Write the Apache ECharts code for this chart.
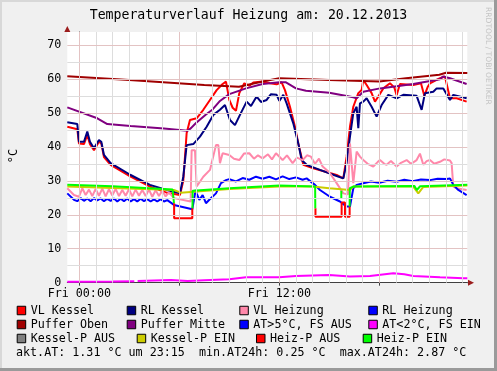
<!DOCTYPE html>
<html><head><meta charset="utf-8">
<script src="https://cdn.jsdelivr.net/npm/echarts@6/dist/echarts.min.js"></script>
<style>html,body{margin:0;padding:0;background:#f0f0f0}#c{width:497px;height:371px}</style>
</head><body><div id="c"></div>
<script>
const titleText = 'Temperaturverlauf Heizung am: 20.12.2013';
const yUnit = '°C';
const sideText = 'RRDTOOL / TOBI OETIKER';
const footerText = 'akt.AT: 1.31 °C um 23:15  min.AT24h: 0.25 °C  max.AT24h: 2.87 °C';
const xStart = -0.72, xEnd = 23.28;
const yMin = 0, yMax = 73.8;
const xTickHours = [0, 6, 12, 18];
const xLabelHours = [0, 12];
const xLabelText = ['Fri 00:00', 'Fri 12:00'];
const yLabelValues = [0, 10, 20, 30, 40, 50, 60, 70];
const gridHours = [0,1,2,3,4,5,6,7,8,9,10,11,12,13,14,15,16,17,18,19,20,21,22,23];
const gridValues = [5,10,15,20,25,30,35,40,45,50,55,60,65,70];

// [hour, °C]
const vlKessel = [[-0.72,45.9],[-0.12,45.2],[-0.02,41],[0.28,40.8],[0.48,43.5],[0.64,40.8],[0.88,39],[1.18,41.5],[1.32,41],[1.48,37],[1.88,34.7],[3.08,31.2],[4.24,28.3],[5.24,26.5],[6.04,25.8],[6.24,30],[6.44,44],[6.64,47.9],[7.04,48.4],[7.44,50.9],[7.84,53.8],[8.24,56.7],[8.6,58.5],[8.8,59.2],[9.0,53.8],[9.2,51.5],[9.4,50.6],[9.6,55.8],[9.9,58.7],[10.2,58.0],[10.44,58.9],[11.0,59.2],[11.44,58.7],[11.84,58.4],[12.14,59.0],[12.34,56.7],[12.64,51.8],[12.94,45.9],[13.14,41],[13.44,34.7],[14.04,33.7],[15.44,31.7],[15.84,30.7],[16.04,37.1],[16.24,45.9],[16.44,51.8],[16.74,55.8],[16.94,56.7],[17.04,59.7],[17.24,58.2],[17.54,55.8],[17.74,53.3],[17.94,54.8],[18.24,57.2],[18.64,58.7],[18.9,57.5],[19.04,55.2],[19.24,58.5],[20.04,58.2],[20.5,58.7],[20.7,55.0],[20.9,57.6],[21.04,58.7],[21.64,60.2],[21.94,60.7],[22.24,54.3],[22.64,54.3],[23.24,53.3]];
const rlKessel = [[-0.72,47.2],[-0.12,46.7],[-0.02,41.5],[0.28,41.5],[0.48,44.5],[0.64,41.5],[0.88,39.6],[1.18,42],[1.32,41.5],[1.48,37.6],[1.88,35.2],[3.08,31.7],[4.24,28.8],[5.24,27.3],[6.04,26.3],[6.24,31.2],[6.44,40.5],[6.84,40.8],[7.24,43],[7.64,45.9],[8.04,49.4],[8.44,50.9],[8.74,52.3],[9.04,47.9],[9.34,46.4],[9.64,49.4],[10.04,53.3],[10.3,52.0],[10.64,54.8],[10.9,53.2],[11.24,53.8],[11.5,55.5],[11.84,55.3],[12.0,53.5],[12.24,55.3],[12.44,52.8],[12.84,46.9],[13.14,41],[13.34,36.1],[13.64,34.7],[14.44,33.2],[15.44,31.4],[15.84,30.7],[16.04,35.2],[16.24,43],[16.44,49.9],[16.64,51.8],[16.74,45.5],[16.84,52.8],[17.04,53.3],[17.24,54.3],[17.54,51.8],[17.84,48.9],[18.14,52.3],[18.54,55.3],[19.04,54.3],[19.44,55.3],[20.24,55],[20.54,50.9],[20.74,55.8],[21.24,56.2],[21.44,57.2],[21.84,57.2],[22.24,53.8],[22.44,55.3],[23.24,54.3]];
const vlHeizung = [[-0.72,27.8],[-0.32,25.8],[-0.02,25.3],[0.18,27.8],[0.38,25.8],[0.58,27.4],[0.78,25.5],[0.98,27.6],[1.18,25.6],[1.38,27.7],[1.58,25.4],[1.78,27.5],[1.98,25.7],[2.18,27.6],[2.38,25.5],[2.58,27.3],[2.78,25.6],[2.98,27.5],[3.18,25.4],[3.38,27.4],[3.58,25.6],[3.78,27.3],[3.98,25.5],[4.18,27.4],[4.38,25.3],[4.58,27.2],[4.78,25.5],[4.98,27.1],[5.18,25.4],[5.38,26.6],[5.68,24.9],[6.68,23.9],[6.74,39],[6.94,39],[7.04,28.3],[7.44,31.2],[7.84,33.2],[8.2,40.5],[8.34,40.5],[8.44,35.2],[8.6,38.1],[9.0,37.6],[9.28,36.5],[9.6,36.1],[9.88,38],[10.2,38.1],[10.48,36.5],[10.72,37.5],[11.0,36.6],[11.32,37.8],[11.56,36.3],[11.8,38.1],[12.2,36.1],[12.46,37.5],[12.8,35.2],[13.06,36.8],[13.4,36.1],[13.66,37.5],[13.9,37.1],[14.14,35],[14.38,36.5],[14.6,34.2],[15.0,32.5],[15.44,29.3],[15.84,26.3],[16.12,26],[16.24,41],[16.34,41],[16.44,29.3],[16.64,38.6],[16.84,37.1],[17.04,36.1],[17.3,35],[17.64,34.2],[17.9,35.5],[18.04,36.1],[18.3,35],[18.44,34.7],[18.7,35.8],[19.04,34.2],[19.3,35.3],[19.64,36.1],[19.9,35],[20.24,36.1],[20.44,38],[20.64,34.7],[20.84,35.8],[21.04,36.1],[21.3,35],[21.64,35.6],[21.9,36.3],[22.24,36],[22.34,35.2],[22.44,28.3],[22.64,27.8],[23.24,27.3]];
const rlHeizung = [[-0.72,26.3],[-0.32,24.4],[-0.12,24.0],[0.08,24.9],[0.28,24.1],[0.48,24.8],[0.68,24.0],[0.88,24.9],[1.08,24.2],[1.28,24.8],[1.48,24.0],[1.68,24.7],[1.88,24.1],[2.08,24.8],[2.28,23.9],[2.48,24.7],[2.68,24.0],[2.88,24.8],[3.08,23.9],[3.28,24.6],[3.48,23.9],[3.68,24.7],[3.88,24.0],[4.08,24.6],[4.28,23.9],[4.48,24.5],[4.68,23.9],[4.88,24.6],[5.08,23.9],[5.28,24.3],[5.68,22.9],[6.78,21.6],[6.98,27.3],[7.04,26.3],[7.2,24.4],[7.4,25.8],[7.6,23.4],[7.8,24.4],[8.2,26.3],[8.5,29.3],[8.8,30.2],[9.0,30.5],[9.4,29.8],[9.8,30.8],[10.2,30.3],[10.6,31.2],[11.0,30.6],[11.4,31.2],[11.8,30.4],[12.2,31.3],[12.6,30.5],[13.0,31],[13.4,30.3],[13.64,30.7],[14.14,28.8],[14.44,27.3],[15.04,25.3],[15.64,23.9],[16.04,22.4],[16.24,22.4],[16.44,27.8],[16.64,28.8],[17.04,29.3],[17.5,29.8],[18.0,29.4],[18.5,30],[19.04,29.7],[19.5,30.3],[20.0,29.9],[20.5,30.4],[21.04,30.2],[21.5,30.6],[22.04,30.5],[22.24,30.7],[22.44,28.8],[22.74,27.3],[23.24,25.8]];
const pufferOben = [[-0.72,60.8],[3,59.7],[7.5,58.2],[9.58,57.7],[11,59.2],[12,60.2],[15,59.7],[18,59.2],[19.6,60.2],[21.6,61.2],[22,61.8],[23.28,61.7]];
const pufferMitte = [[-0.72,51.6],[1.08,48.4],[1.68,46.7],[3.08,46.1],[5.08,45.4],[6.48,44.7],[6.7,45.5],[7.0,47],[7.6,49.5],[8.0,51],[8.44,53.5],[9.0,55.5],[10.0,57.2],[11.0,58.5],[12.0,59.0],[12.4,59.0],[13.0,57.2],[13.6,56.5],[15.0,55.9],[16.44,54.6],[16.64,54.3],[17.04,56.2],[18.04,57.2],[20.04,58.5],[21.64,59.9],[21.82,60.7],[22.24,60.2],[23.24,58.5]];
const atHigh = [];
const atLow = [[-0.72,0.3],[2,0.35],[3.3,0.45],[3.35,null],[3.45,null],[3.5,0.5],[5.5,0.8],[6.5,0.5],[7.5,0.7],[9,1.0],[10,1.6],[12,1.6],[13,2.0],[15,2.3],[16.24,1.8],[17.44,2.0],[18.84,2.8],[19.5,2.5],[20.04,2.0],[21.64,1.6],[23.04,1.3],[23.28,1.3]];
const kesselPAus = [];
const kesselPEin = [[-0.72,28.3],[5.68,27.3],[6.08,26.5],[6.88,26.8],[9.0,27.6],[12,28.3],[14,28.3],[15,27.8],[16.24,27.3],[16.44,28.3],[20.04,28.3],[20.34,26.3],[20.64,28.2],[23.28,28.6]];
const heizPAus = [[5.69,23.4],[5.69,19],[6.78,19],[6.78,21.9],[6.8,null],[14.16,null],[14.17,21.9],[14.17,19.4],[15.74,19.4],[15.74,23.6],[15.94,23.6],[15.94,19.4],[16.22,19.4],[16.22,22.4]];
const heizPEin = [[-0.72,28.8],[2,28.4],[5.6,27.4],[5.68,27.3],[5.68,23.4],[5.7,null],[6.77,null],[6.79,21.9],[6.8,27.1],[9,27.8],[12,28.6],[14.15,28.3],[14.16,21.9],[14.18,null],[15.7,null],[15.72,27.1],[15.72,24.9],[15.74,null],[16.2,null],[16.22,22.4],[16.23,27.8],[16.44,28.3],[20.1,28.5],[20.25,27.3],[20.45,28.4],[23.28,28.8]];

const seriesDefs = [
  {name:'VL Kessel', color:'#ff0000', data:vlKessel},
  {name:'RL Kessel', color:'#000080', data:rlKessel},
  {name:'VL Heizung', color:'#ff88aa', data:vlHeizung},
  {name:'RL Heizung', color:'#0000ff', data:rlHeizung},
  {name:'Puffer Oben', color:'#a00000', data:pufferOben},
  {name:'Puffer Mitte', color:'#800080', data:pufferMitte},
  {name:'AT>5°C, FS AUS', color:'#0000ff', data:atHigh},
  {name:'AT<2°C, FS EIN', color:'#ff00ff', data:atLow},
  {name:'Kessel-P AUS', color:'#808080', data:kesselPAus},
  {name:'Kessel-P EIN', color:'#cccc00', data:kesselPEin},
  {name:'Heiz-P AUS', color:'#ff0000', data:heizPAus},
  {name:'Heiz-P EIN', color:'#00ff00', data:heizPEin}
];
const legendRows = [
  {top:311.5, lefts:[16.7,126.7,239.3,368.3]},
  {top:325.5, lefts:[16.7,126.7,239.3,368.3]},
  {top:339.5, lefts:[16.7,136.7,256,362.7]}
];

const FONT = 'DejaVu Sans Mono';
const chart = echarts.init(document.getElementById('c'), null, {renderer:'canvas'});

const legends = seriesDefs.map((s, i) => {
  const row = legendRows[Math.floor(i / 4)];
  return {
    data:[s.name], left: row.lefts[i % 4], top: row.top - 7,
    padding:0, icon:'rect', itemWidth:8.5, itemHeight:8.5, selectedMode:false,
    itemStyle:{borderColor:'#000', borderWidth:1},
    textStyle:{fontFamily:FONT, fontSize:11.7, color:'#000', padding:[0,0,0,0]}
  };
});

const gridLines = [];
gridHours.forEach(h => gridLines.push({xAxis:h, lineStyle:{color: h % 6 === 0 ? '#e3c3c3' : '#dddddd'}}));
gridValues.forEach(v => gridLines.push({yAxis:v, lineStyle:{color: v % 10 === 0 ? '#e3c3c3' : '#dddddd'}}));

const series = [{
  type:'line', name:'_grid', data:[], silent:true, z:1,
  markLine:{silent:true, symbol:'none', animation:false, label:{show:false},
    lineStyle:{type:'solid', width:1}, data:gridLines}
}].concat(seriesDefs.map((s, i) => ({
  type:'line', name:s.name, data:s.data, showSymbol:false, symbol:'none',
  color:s.color, lineStyle:{color:s.color, width:2}, itemStyle:{color:s.color},
  connectNulls:false, z:2 + i * 0.01, animation:false
})));

chart.setOption({
  animation:false,
  backgroundColor:'#f0f0f0',
  title:{text:titleText, left:'center', top:9, padding:0,
    textStyle:{fontFamily:FONT, fontSize:13.2, fontWeight:'normal', color:'#000'}},
  legend:legends,
  grid:{left:67.3, right:29.7, top:32, bottom:88.3, show:true, backgroundColor:'#ffffff', borderWidth:0},
  xAxis:{type:'value', min:xStart, max:xEnd,
    axisLine:{show:true, onZero:false, lineStyle:{color:'#404040', width:1}},
    axisTick:{show:true, customValues:xTickHours, length:3, lineStyle:{color:'#404040'}},
    axisLabel:{customValues:xLabelHours, formatter:v => xLabelText[xLabelHours.indexOf(v)] || '',
      fontFamily:FONT, fontSize:11.7, color:'#000', margin:5},
    splitLine:{show:false}},
  yAxis:{type:'value', min:yMin, max:yMax,
    axisLine:{show:true, lineStyle:{color:'#404040', width:1}},
    axisTick:{show:true, customValues:yLabelValues, length:3, lineStyle:{color:'#404040'}},
    axisLabel:{customValues:yLabelValues, fontFamily:FONT, fontSize:11.7, color:'#000', margin:6},
    splitLine:{show:false}},
  graphic:[
    {type:'rect', left:0, top:0, shape:{width:497, height:2}, style:{fill:'#d8d8d8'}, silent:true},
    {type:'rect', left:0, top:0, shape:{width:2, height:371}, style:{fill:'#d8d8d8'}, silent:true},
    {type:'rect', left:494, top:0, shape:{width:3, height:371}, style:{fill:'#9a9a9a'}, silent:true},
    {type:'rect', left:0, top:368, shape:{width:497, height:3}, style:{fill:'#9a9a9a'}, silent:true},
    {type:'polygon', shape:{points:[[64.3,32],[70.3,32],[67.3,26]]}, style:{fill:'#9b1c1c'}, silent:true, z:10},
    {type:'line', shape:{x1:467.3, y1:282.7, x2:470, y2:282.7}, style:{stroke:'#404040', lineWidth:1}, silent:true, z:10},
    {type:'polygon', shape:{points:[[468,279.7],[468,285.7],[474,282.7]]}, style:{fill:'#9b1c1c'}, silent:true, z:10},
    {type:'text', x:13.5, y:156, rotation:Math.PI/2, silent:true,
      style:{text:yUnit, fontFamily:FONT, fontSize:12, fill:'#000', align:'center', verticalAlign:'middle'}},
    {type:'text', x:487.5, y:7, rotation:-Math.PI/2, silent:true,
      style:{text:sideText, fontFamily:'DejaVu Sans', fontSize:7.6, fill:'#c4c4c4', align:'left', verticalAlign:'middle'}},
    {type:'text', left:16, top:346.5, silent:true,
      style:{text:footerText, fontFamily:FONT, fontSize:11.7, fill:'#000'}}
  ],
  series:series
});
</script></body></html>
